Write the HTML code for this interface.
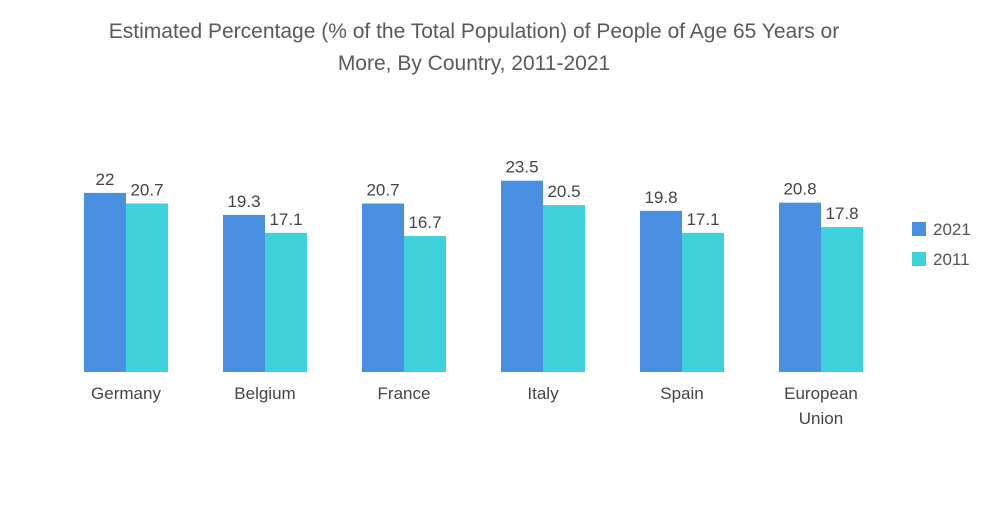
<!DOCTYPE html>
<html>
<head>
<meta charset="utf-8">
<style>
  html,body{margin:0;padding:0;background:#fff;}
  body{width:1000px;height:504px;overflow:hidden;font-family:"Liberation Sans",sans-serif;}
  svg text{font-family:"Liberation Sans",sans-serif;}
</style>
</head>
<body>
<svg id="chart" width="1000" height="504" viewBox="0 0 1000 504">
  <text x="474" y="38" text-anchor="middle" font-size="21" fill="#5a5a5a">Estimated Percentage (% of the Total Population) of People of Age 65 Years or</text>
  <text x="474" y="70" text-anchor="middle" font-size="21" fill="#5a5a5a">More, By Country, 2011-2021</text>
  <g id="bars"></g>
  <g id="labels"></g>
  <g>
    <rect x="912" y="222" width="14" height="14" fill="#4a90e2"/>
    <text x="933" y="235" font-size="17" fill="#555">2021</text>
    <rect x="912" y="252" width="14" height="14" fill="#3fd1d9"/>
    <text x="933" y="265" font-size="17" fill="#555">2011</text>
  </g>
</svg>
<script>
const categories = [["Germany"],["Belgium"],["France"],["Italy"],["Spain"],["European","Union"]];
const values2021 = [22, 19.3, 20.7, 23.5, 19.8, 20.8];
const values2011 = [20.7, 17.1, 16.7, 20.5, 17.1, 17.8];
const labels2021 = ["22","19.3","20.7","23.5","19.8","20.8"];
const labels2011 = ["20.7","17.1","16.7","20.5","17.1","17.8"];

const NS = "http://www.w3.org/2000/svg";
const baseY = 372, pxPerUnit = 8.14, groupStart = 84, groupStep = 139, barW = 42;
function yScale(v){ return baseY - v * pxPerUnit; }
function xGroup(i){ return groupStart + i * groupStep; }

const bars = document.getElementById('bars');
const labels = document.getElementById('labels');
function mk(tag, attrs){ const e = document.createElementNS(NS, tag); for (const k in attrs) e.setAttribute(k, attrs[k]); return e; }

categories.forEach((cat, i) => {
  [[values2021, labels2021, "#4a90e2", 0, "2021"], [values2011, labels2011, "#3fd1d9", 1, "2011"]].forEach(([vals, labs, col, off, yr]) => {
    const x = xGroup(i) + off * barW;
    const y = yScale(vals[i]);
    const r = mk('rect', {x: x, y: y, width: barW, height: baseY - y, fill: col});
    
    
    bars.appendChild(r);
    const t = mk('text', {x: x + barW / 2, y: y - 8, 'text-anchor': 'middle', 'font-size': 17, fill: '#444'});
    
    
    t.textContent = labs[i];
    bars.appendChild(t);
  });
  cat.forEach((line, j) => {
    const t = mk('text', {x: xGroup(i) + barW, y: 399 + j * 25, 'text-anchor': 'middle', 'font-size': 17, fill: '#444'});
    
    
    t.textContent = line;
    labels.appendChild(t);
  });
});
</script>
</body>
</html>
